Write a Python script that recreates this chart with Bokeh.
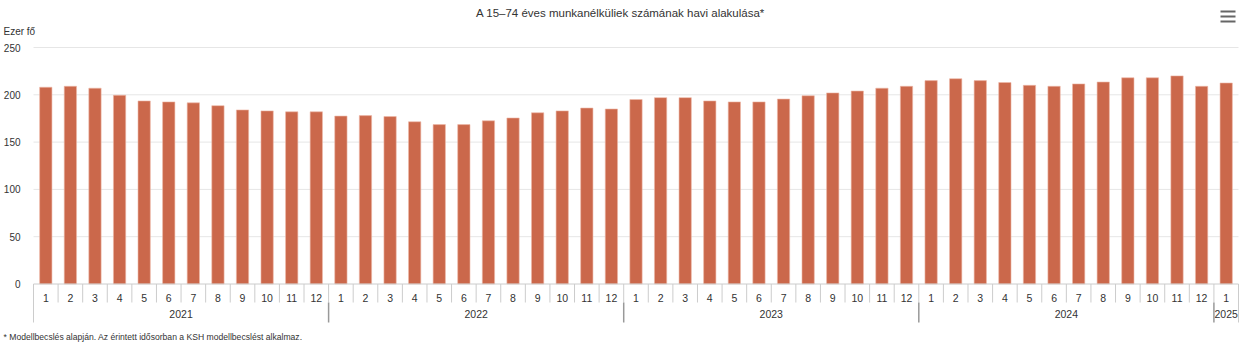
from bokeh.plotting import figure
from bokeh.models import Range1d
from bokeh.core.properties import value
from bokeh.embed import file_html
from bokeh.resources import INLINE

# ---------------- data ----------------
title_text = "A 15–74 éves munkanélküliek számának havi alakulása*"
unit_text = "Ezer fő"
note_text = "* Modellbecslés alapján. Az érintett idősorban a KSH modellbecslést alkalmaz."
years = ["2021", "2022", "2023", "2024", "2025"]
months_per_year = [12, 12, 12, 12, 1]
values_2021 = [208, 209, 207, 199.5, 193.5, 192.5, 191.5, 188.5, 184, 183, 182, 182]
values_2022 = [177.5, 178, 177, 171.5, 168.5, 168.5, 172.5, 175.5, 181, 183, 186, 185]
values_2023 = [195, 197, 197, 193.5, 192.5, 192.5, 195.5, 199, 202, 204, 207, 209]
values_2024 = [215, 217, 215, 213, 210, 209, 211.5, 213.5, 218, 218, 220, 209]
values_2025 = [212.5]
y_ticks = [0, 50, 100, 150, 200, 250]

# ---------------- derived ----------------
values = values_2021 + values_2022 + values_2023 + values_2024 + values_2025
month_labels = [str(m) for n in months_per_year for m in range(1, n + 1)]
n = len(values)
xc = [i + 0.5 for i in range(n)]
bounds = [0]
for c in months_per_year:
    bounds.append(bounds[-1] + c)
year_centers = [(a + b) / 2 for a, b in zip(bounds[:-1], bounds[1:])]

# ---------------- layout (whole canvas is the frame) ----------------
W, H = 1243, 342
plot_left, plot_right = 33.0, 1238.0     # pixel edges of the category area
zero_px, top_px = 283.5, 47.0            # pixel rows of 0 and of the top tick
cat_px = (plot_right - plot_left) / n
unit_px = (zero_px - top_px) / y_ticks[-1]
x_start = -plot_left / cat_px
x_end = (W - plot_left) / cat_px
y_end = zero_px / unit_px
y_start = -(H - zero_px) / unit_px

def fx(px):  # canvas pixel column -> data x (for decorations only)
    return (px - plot_left) / cat_px

def fy(py):  # canvas pixel row -> data y (for decorations only)
    return (zero_px - py) / unit_px

FONT = value("Liberation Sans")
TXT = "#333333"
BAR = "#cb684b"

p = figure(width=W, height=H, output_backend="svg", toolbar_location=None,
           x_range=Range1d(x_start, x_end), y_range=Range1d(y_start, y_end),
           x_axis_location=None, y_axis_location=None,
           min_border_left=0, min_border_right=0, min_border_top=0, min_border_bottom=0)
p.outline_line_color = None
p.xgrid.grid_line_color = None
p.ygrid.grid_line_color = None

# horizontal grid lines (over the category area only)
gl = y_ticks[1:]
p.segment(x0=[0] * len(gl), y0=gl, x1=[n] * len(gl), y1=gl,
          line_color="#e6e6e6", line_width=1)
# y tick labels
p.text(x=[fx(20)] * len(y_ticks), y=y_ticks, text=[str(t) for t in y_ticks],
       text_align="right", text_baseline="middle", text_font=FONT,
       text_font_size="10px", text_color=TXT)

# bars
p.vbar(x=xc, top=values, width=0.5, bottom=0, fill_color=BAR,
       line_color="#eeb9a8", line_width=0.6)

# axis line at zero
p.segment(x0=[0], y0=[0], x1=[n], y1=[0], line_color="#cccccc", line_width=1)

# month ticks
ks = list(range(n + 1))
p.segment(x0=ks, y0=[0] * len(ks), x1=ks, y1=[fy(302)] * len(ks),
          line_color="#cccccc", line_width=1)
# outer edges
p.segment(x0=[0, n], y0=[0, 0], x1=[0, n], y1=[fy(322)] * 2,
          line_color="#cccccc", line_width=1)
# year separators
inner = bounds[1:-1]
p.segment(x0=inner, y0=[fy(302)] * len(inner), x1=inner, y1=[fy(322)] * len(inner),
          line_color="#999999", line_width=1.5)

# month labels
p.text(x=xc, y=[fy(297)] * n, text=month_labels, text_align="center",
       text_baseline="middle", text_font=FONT, text_font_size="10.5px",
       text_color=TXT)
# year labels
p.text(x=year_centers, y=[fy(313)] * len(years), text=years, text_align="center",
       text_baseline="middle", text_font=FONT, text_font_size="10.5px",
       text_color=TXT)

# title, unit, footnote
p.text(x=[fx(620)], y=[fy(12)], text=[title_text], text_align="center",
       text_baseline="middle", text_font=FONT, text_font_size="11.5px", text_color=TXT)
p.text(x=[fx(3)], y=[fy(31)], text=[unit_text], text_align="left",
       text_baseline="middle", text_font=FONT, text_font_size="10px", text_color=TXT)
p.text(x=[fx(3)], y=[fy(336)], text=[note_text], text_align="left",
       text_baseline="middle", text_font=FONT, text_font_size="8.6px", text_color=TXT)

# menu icon
p.segment(x0=[fx(1220)] * 3, y0=[fy(11), fy(16), fy(21)],
          x1=[fx(1235)] * 3, y1=[fy(11), fy(16), fy(21)],
          line_color="#666666", line_width=2)

open("out.html", "w").write(file_html(p, INLINE))
